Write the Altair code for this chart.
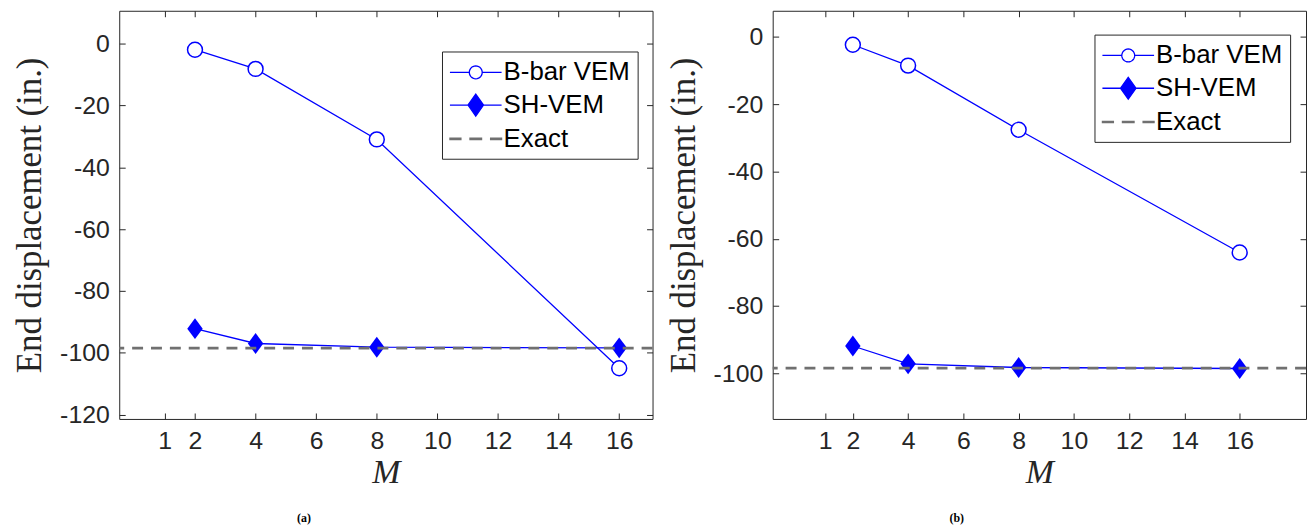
import math
import altair as alt
import pandas as pd

# ---------------- data ----------------
M_vals = [2, 4, 8, 16]
series_names = ["B-bar VEM", "SH-VEM", "Exact"]

bbar_a = [-2.0, -8.2, -31.0, -105.0]
sh_a = [-92.2, -97.0, -98.2, -98.4]
exact_a = -98.5

bbar_b = [-2.3, -8.5, -27.6, -64.1]
sh_b = [-91.9, -97.2, -98.3, -98.6]
exact_b = -98.5

x_ticks = [1, 2, 4, 6, 8, 10, 12, 14, 16]
y_ticks_a = [-120, -100, -80, -60, -40, -20, 0]
y_ticks_b = [-100, -80, -60, -40, -20, 0]

# ---------------- style ----------------
BLUE = "#0000ff"
GRAY = "#707070"
AXC = "#262626"
SANS = "Liberation Sans"
SERIF = "Liberation Serif"

diamond_path = "M0,-1L0.74,0L0,1L-0.74,0Z"


def _circle_poly(cx, r, n=28):
    pts = []
    for k in range(n):
        t = 2 * math.pi * k / n
        pts.append(f"{cx + r * math.cos(t):.3f},{r * math.sin(t):.3f}")
    return "M" + "L".join(pts) + "Z"


legend_paths = [
    "M-1,0H0.5M1.5,0H3" + _circle_poly(1.0, 0.5),
    "M-1,0H3M1,-0.85L1.6,0L1,0.85L0.4,0Z",
    "M-1,-0.05H-0.15V0.05H-1Z M0.55,-0.05H1.45V0.05H0.55Z M2.15,-0.05H3V0.05H2.15Z",
]
legend_fills = ["white", BLUE, GRAY]
legend_strokes = [BLUE, BLUE, GRAY]


def panel(bbar, sh, exact, xdom, ydom, yticks, lx, ly, caption, cap_dx):
    df_b = pd.DataFrame({"M": M_vals, "value": bbar, "series": series_names[0]})
    df_s = pd.DataFrame({"M": M_vals, "value": sh, "series": series_names[1]})
    df_e = pd.DataFrame({"value": [exact], "series": [series_names[2]]})
    df_leg = pd.concat([df_b.iloc[:2], df_s.iloc[:2]], ignore_index=True)

    xs = alt.Scale(domain=xdom, nice=False, zero=False)
    ys = alt.Scale(domain=ydom, nice=False, zero=False)

    ax_x_lab = alt.Axis(orient="bottom", values=x_ticks, ticks=False, domain=False, grid=False,
                        labelFont=SANS, labelFontSize=25, labelColor=AXC, labelPadding=10,
                        labelFlush=False, labelOverlap=False,
                        title="M", titleFont=SERIF, titleFontStyle="italic", titleFontWeight="normal",
                        titleFontSize=34, titleColor=AXC, titlePadding=2)
    ax_y_lab = alt.Axis(orient="left", values=yticks, ticks=False, domain=False, grid=False,
                        labelFont=SANS, labelFontSize=25, labelColor=AXC, labelPadding=10,
                        labelOverlap=False, labelFlush=False, labelExpr="datum.value + ''",
                        title="End displacement (in.)", titleFont=SERIF, titleFontWeight="normal",
                        titleFontSize=35, titleColor=AXC, titlePadding=12)

    def tick_axis(orient, vals):
        return alt.Axis(orient=orient, values=vals, labels=False, domain=False, grid=False,
                        ticks=True, tickSize=6, offset=-6, tickColor=AXC, tickWidth=1, title=None)

    line_b = alt.Chart(df_b).mark_line(color=BLUE, strokeWidth=1.3).encode(
        x=alt.X("M:Q", scale=xs, axis=ax_x_lab),
        y=alt.Y("value:Q", scale=ys, axis=ax_y_lab),
    )
    line_s = alt.Chart(df_s).mark_line(color=BLUE, strokeWidth=1.3).encode(
        x=alt.X("M:Q", scale=xs, axis=tick_axis("bottom", x_ticks)),
        y=alt.Y("value:Q", scale=ys, axis=tick_axis("left", yticks)),
    )
    pts_b = alt.Chart(df_b).mark_point(shape="circle", size=225, filled=True, fill="white",
                                       stroke=BLUE, strokeWidth=1.5, opacity=1).encode(
        x=alt.X("M:Q", scale=xs, axis=tick_axis("top", x_ticks)),
        y=alt.Y("value:Q", scale=ys, axis=tick_axis("right", yticks)),
    )
    pts_s = alt.Chart(df_s).mark_point(shape=diamond_path, size=441, filled=True,
                                       color=BLUE, opacity=1).encode(
        x=alt.X("M:Q", scale=xs, axis=None),
        y=alt.Y("value:Q", scale=ys, axis=None),
    )
    rule_e = alt.Chart(df_e).mark_rule(color=GRAY, strokeWidth=2.8, strokeDash=[11, 8]).encode(
        y=alt.Y("value:Q", scale=ys, axis=None),
    )
    leg = alt.Legend(orient="none", legendX=lx, legendY=ly, title=None, direction="vertical",
                     symbolSize=676, symbolStrokeWidth=1.3, symbolOpacity=1,
                     labelFont=SANS, labelFontSize=26, labelColor="black", labelOffset=27,
                     labelLimit=400, rowPadding=6, padding=7,
                     strokeColor=AXC, fillColor="white")
    leg_layer = alt.Chart(df_leg).mark_point(filled=True, opacity=0, clip=True).encode(
        x=alt.X("M:Q", scale=xs, axis=None),
        y=alt.Y("value:Q", scale=ys, axis=None),
        shape=alt.Shape("series:N", scale=alt.Scale(domain=series_names, range=legend_paths), legend=leg),
        fill=alt.Fill("series:N", scale=alt.Scale(domain=series_names, range=legend_fills), legend=leg),
        stroke=alt.Stroke("series:N", scale=alt.Scale(domain=series_names, range=legend_strokes), legend=leg),
    )
    return alt.layer(line_b, line_s, pts_b, pts_s, rule_e, leg_layer).resolve_axis(
        x="independent", y="independent"
    ).properties(
        width=537, height=411,
        title=alt.TitleParams(caption, orient="bottom", anchor="start", frame="group", dx=cap_dx,
                              font=SERIF, fontSize=12, fontWeight="bold", color="black", offset=24),
    )


pa = panel(bbar_a, sh_a, exact_a, [-0.5, 17.1], [-121.4, 10.6], y_ticks_a, 325, 41, "(a)", 179)
pb = panel(bbar_b, sh_b, exact_b, [-0.9, 18.4], [-113.6, 7.8], y_ticks_b, 324, 24, "(b)", 178)

chart = alt.hconcat(pa, pb, spacing=11).resolve_scale(
    x="independent", y="independent", shape="independent", fill="independent", stroke="independent"
).resolve_legend(
    shape="independent", fill="independent", stroke="independent"
).configure_view(stroke=AXC, strokeWidth=1).properties(
    padding={"left": 4, "top": 0, "right": 0, "bottom": 0}
)

chart.save("out.html", embed_options={"renderer": "svg", "actions": False})
